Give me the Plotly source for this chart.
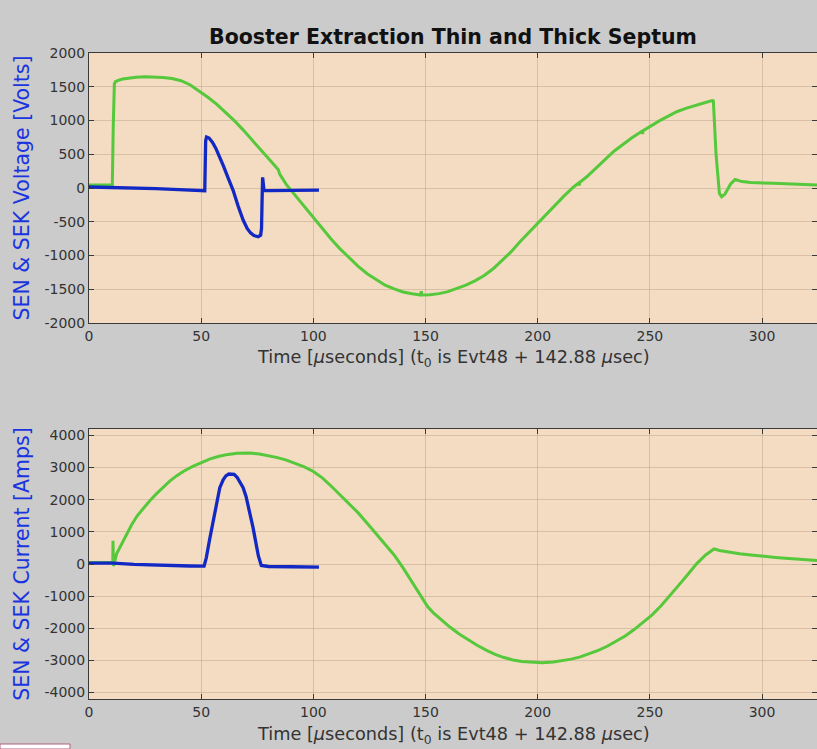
import plotly.graph_objects as go

# ---------------- data ----------------
# Top panel: voltage (green trace)
volt_green_t = [0, 10.4, 10.8, 11.3, 11.8, 13, 15, 18, 21, 25, 29, 33, 37, 41, 45, 49, 53, 57, 61, 65, 69, 73,
                77, 81, 84.4, 84.6, 85, 88, 92, 96, 100, 104, 108, 112, 116, 120, 124, 128, 132, 136, 140, 144,
                147.8, 148.1, 148.4, 152, 156, 160, 164, 168, 172, 176, 180, 184, 188, 192, 196, 200, 204, 208,
                212, 216, 218.3, 218.5, 218.8, 222, 226, 230, 234, 238, 242, 246.5, 246.7, 247, 250, 254, 258,
                262, 266, 270, 274, 277.8, 278.3, 279.5, 281, 282, 283.5, 286, 288, 291, 295, 305, 315, 324.5]
volt_green_v = [44, 44, 900, 1540, 1575, 1595, 1615, 1632, 1642, 1648, 1646, 1637, 1622, 1590, 1530, 1440, 1345,
                1240, 1120, 990, 850, 705, 555, 400, 270, 225, 205, 50, -115, -280, -440, -600, -760, -905, -1040,
                -1160, -1270, -1360, -1440, -1495, -1540, -1568, -1585, -1530, -1585, -1582, -1565, -1535, -1490,
                -1440, -1375, -1300, -1200, -1080, -950, -800, -660, -520, -380, -240, -110, 15, 75, 40, 85, 170,
                290, 420, 545, 650, 745, 840, 800, 850, 915, 990, 1060, 1130, 1180, 1225, 1260, 1294, 1290, 500,
                -80, -129, -90, 60, 125, 95, 80, 70, 60, 44]

# Top panel: voltage (blue trace)
volt_blue_t = [0, 10, 20, 30, 40, 51.6, 52.0, 52.4, 53.5, 55, 56.5, 58.3, 60, 62, 64.2, 66.5, 68.7, 70.5, 72,
               73.5, 75.4, 76.5, 76.9, 77.2, 77.4, 77.7, 78, 80, 90, 102.5]
volt_blue_v = [15, 10, 0, -10, -25, -40, 700, 756, 740, 680, 590, 459, 320, 150, -30, -270, -474, -600, -665,
               -705, -722, -700, -600, -100, 158, 60, -40, -40, -35, -30]

# Bottom panel: current (green trace)
curr_green_t = [0, 10.6, 10.7, 10.9, 11.2, 12.3, 13.8, 15.3, 17, 19, 21.5, 24, 27, 30, 33, 36, 39, 42, 46, 50, 54,
                58, 62, 66, 69, 72, 76, 80, 84, 88, 92, 96, 100, 104, 108, 112, 116, 120, 124, 128, 132, 136, 140,
                144, 148, 151, 153.5, 157, 161, 165, 169, 173, 177, 181, 185, 189, 193, 197, 202, 207, 211, 215,
                219, 223, 227, 231, 235, 239, 243, 247, 251, 255, 259, 263, 267, 271, 275, 278.6, 281, 285.3, 290,
                295, 300, 306, 312, 318, 324.5]
curr_green_v = [50, 50, 720, -60, 0, 315, 520, 726, 960, 1220, 1500, 1720, 1960, 2180, 2380, 2579, 2740, 2880, 3030,
                3160, 3270, 3350, 3410, 3445, 3454, 3450, 3420, 3370, 3310, 3230, 3130, 3020, 2880, 2680, 2420,
                2150, 1870, 1590, 1270, 950, 620, 280, -120, -560, -980, -1330, -1520, -1740, -1970, -2180, -2360,
                -2530, -2680, -2810, -2910, -2985, -3035, -3060, -3070, -3050, -3010, -2960, -2890, -2800, -2690,
                -2560, -2410, -2240, -2040, -1820, -1580, -1300, -990, -650, -320, 20, 290, 469, 420, 366, 320,
                280, 240, 205, 170, 140, 108]

# Bottom panel: current (blue trace)
curr_blue_t = [0, 10.8, 20, 36, 45, 51.3, 52.3, 53.8, 55.3, 56.8, 58.3, 59.8, 61, 62.3, 63.5, 64.7, 66, 67.3,
               68.7, 70, 71.5, 73.1, 74.5, 75.5, 76.8, 80, 90, 102.5]
curr_blue_v = [25, 25, -10, -56, -62, -67, 200, 780, 1343, 1900, 2373, 2620, 2740, 2800, 2806, 2790, 2700, 2560,
               2373, 2100, 1680, 1137, 620, 250, -46, -77, -85, -98]

x_ticks = [0, 50, 100, 150, 200, 250, 300]
volt_ticks = [-2000, -1500, -1000, -500, 0, 500, 1000, 1500, 2000]
curr_ticks = [-4000, -3000, -2000, -1000, 0, 1000, 2000, 3000, 4000]

title_text = "Booster Extraction Thin and Thick Septum"
xlabel = "Time [<i>μ</i>seconds] (t<sub>0</sub> is Evt48 + 142.88 <i>μ</i>sec)"
volt_label = "SEN &amp; SEK Voltage [Volts]"
curr_label = "SEN &amp; SEK Current [Amps]"

# ---------------- style ----------------
GREEN = "#55c83c"
BLUE = "#1228c4"
PEACH = "#f3dcc1"
GRAY = "#cbcbcb"
GRID = "rgba(120,95,70,0.22)"
AX = "#3a3a3a"
FONT = "DejaVu Sans"

fig = go.Figure()
fig.add_trace(go.Scatter(x=volt_green_t, y=volt_green_v, mode="lines", line=dict(color=GREEN, width=3),
                         xaxis="x", yaxis="y", showlegend=False))
fig.add_trace(go.Scatter(x=volt_blue_t, y=volt_blue_v, mode="lines", line=dict(color=BLUE, width=3.3),
                         xaxis="x", yaxis="y", showlegend=False))
fig.add_trace(go.Scatter(x=curr_green_t, y=curr_green_v, mode="lines", line=dict(color=GREEN, width=3),
                         xaxis="x2", yaxis="y2", showlegend=False))
fig.add_trace(go.Scatter(x=curr_blue_t, y=curr_blue_v, mode="lines", line=dict(color=BLUE, width=3.3),
                         xaxis="x2", yaxis="y2", showlegend=False))

common_x = dict(range=[0, 324.5], tickvals=x_ticks, ticks="inside", ticklen=5, tickcolor=AX,
                showline=True, linecolor=AX, linewidth=1, mirror="ticks", showgrid=True,
                gridcolor=GRID, gridwidth=1, zeroline=False,
                tickfont=dict(family=FONT, size=14, color="#333333"))
common_y = dict(ticks="inside", ticklen=5, tickcolor=AX, showline=True, linecolor=AX, linewidth=1,
                mirror="ticks", showgrid=True, gridcolor=GRID, gridwidth=1, zeroline=False,
                tickfont=dict(family=FONT, size=14, color="#333333"),
                title_font=dict(family=FONT, size=20.5, color="#1a34e0"), title_standoff=9)

top_dom = [376 / 646, 1.0]
bot_dom = [0.0, 270 / 646]

fig.update_layout(
    width=817, height=749,
    margin=dict(l=89, r=0, t=53, b=50),
    paper_bgcolor=GRAY, plot_bgcolor=PEACH,
    xaxis=dict(domain=[0, 1], anchor="y", **common_x),
    yaxis=dict(domain=top_dom, anchor="x", range=[-2000, 2000], tickvals=volt_ticks,
               ticktext=[str(v) for v in volt_ticks], title_text=volt_label, **common_y),
    xaxis2=dict(domain=[0, 1], anchor="y2", **common_x),
    yaxis2=dict(domain=bot_dom, anchor="x2", range=[-4200, 4200], tickvals=curr_ticks,
                ticktext=[str(v) for v in curr_ticks], title_text=curr_label, **common_y),
    title=dict(text="<b>" + title_text + "</b>", x=453 / 817, xanchor="center", y=1 - 37 / 749,
               yanchor="middle", font=dict(family=FONT, size=20.5, color="#111111")),
    annotations=[
        dict(text=xlabel, xref="paper", yref="paper", x=0.5, y=(699 - 358) / 646, xanchor="center",
             yanchor="middle", showarrow=False, font=dict(family=FONT, size=17.7, color="#333333")),
        dict(text=xlabel, xref="paper", yref="paper", x=0.5, y=(699 - 735) / 646, xanchor="center",
             yanchor="middle", showarrow=False, font=dict(family=FONT, size=17.7, color="#333333")),
    ],
    shapes=[
        dict(type="rect", xref="paper", yref="paper", x0=-89 / 728, x1=(70 - 89) / 728,
             y0=(699 - 749) / 646, y1=(699 - 744) / 646, fillcolor="white",
             line=dict(color="#b06080", width=1), layer="above"),
    ],
)

fig.write_html("out.html")
